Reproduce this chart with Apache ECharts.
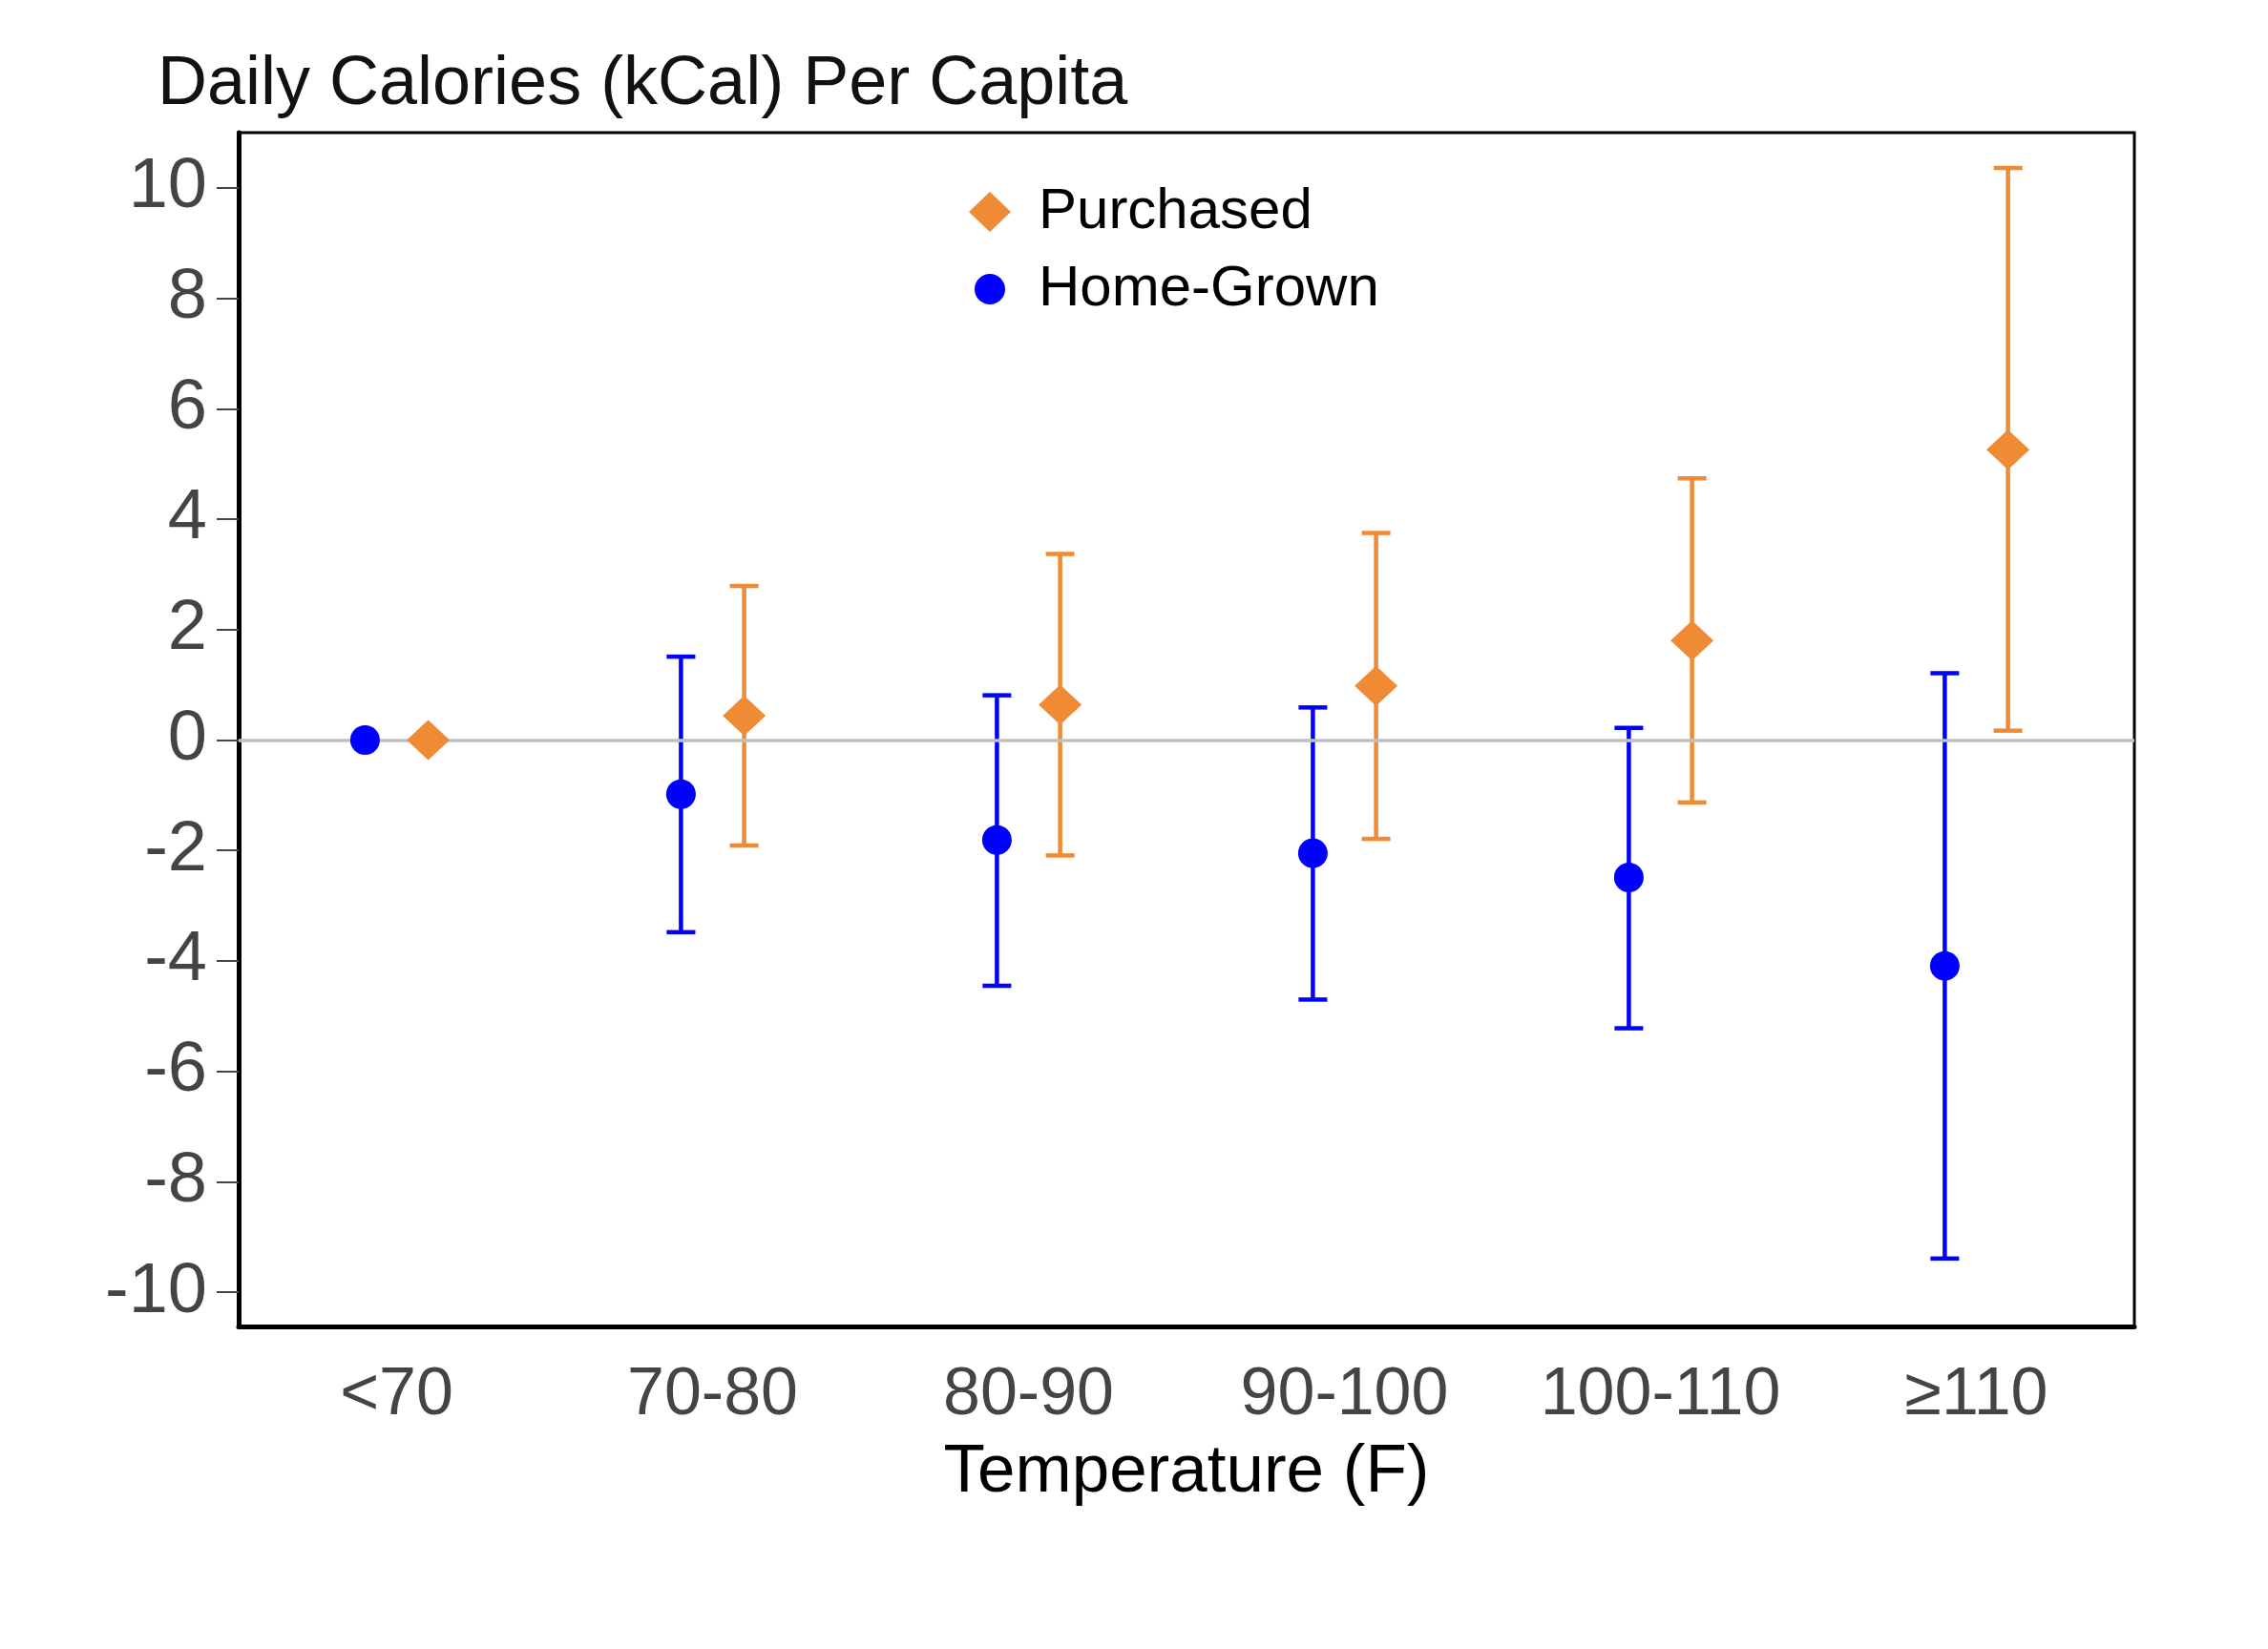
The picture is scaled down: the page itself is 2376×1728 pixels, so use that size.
<!DOCTYPE html>
<html>
<head>
<meta charset="utf-8">
<script src="https://cdn.jsdelivr.net/npm/echarts@6/dist/echarts.min.js"></script>
<style>html,body{margin:0;padding:0;background:#fff;}#c{width:2376px;height:1728px;}</style>
</head>
<body>
<div id="c"></div>
<script>
// ---- data ----
const categories = ['<70', '70-80', '80-90', '90-100', '100-110', '≥110'];
const yTicks = [-10, -8, -6, -4, -2, 0, 2, 4, 6, 8, 10];

const purchasedEst = [0, 0.44, 0.64, 0.98, 1.80, 5.26];
const purchasedLow = [null, -1.91, -2.09, -1.79, -1.13, 0.17];
const purchasedHigh = [null, 2.79, 3.37, 3.75, 4.74, 10.36];

const homeEst = [0, -0.98, -1.81, -2.05, -2.49, -4.09];
const homeLow = [null, -3.48, -4.45, -4.70, -5.22, -9.39];
const homeHigh = [null, 1.51, 0.81, 0.59, 0.22, 1.21];

const ORANGE = '#EF8A35';
const BLUE = '#0000FF';
const FONT = 'Liberation Sans';
const OFFSET = 0.1;

const points = (est, shift) => est.map((v, i) => [i + shift, v]);
const bars = (lo, hi, shift) => lo.map((l, i) => l == null ? null : [i + shift, l, hi[i]]).filter(d => d);

function errorBar(color) {
  return function (params, api) {
    const x = api.value(0);
    const p1 = api.coord([x, api.value(1)]);
    const p2 = api.coord([x, api.value(2)]);
    const w = 15;
    const st = { stroke: color, lineWidth: 4.5 };
    return {
      type: 'group',
      children: [
        { type: 'line', shape: { x1: p1[0], y1: p1[1], x2: p2[0], y2: p2[1] }, style: st },
        { type: 'line', shape: { x1: p1[0] - w, y1: p1[1], x2: p1[0] + w, y2: p1[1] }, style: st },
        { type: 'line', shape: { x1: p2[0] - w, y1: p2[1], x2: p2[0] + w, y2: p2[1] }, style: st }
      ]
    };
  };
}

const legendText = { fontFamily: FONT, fontSize: 60, color: '#000', padding: [0, 0, 0, 24] };

const chart = echarts.init(document.getElementById('c'), null, { renderer: 'canvas' });
chart.setOption({
  animation: false,
  backgroundColor: '#fff',
  textStyle: { fontFamily: FONT },
  title: {
    text: 'Daily Calories (kCal) Per Capita',
    left: 160, top: 48,
    textStyle: { fontFamily: FONT, fontSize: 72, fontWeight: 'normal', color: '#111' }
  },
  legend: [
    {
      left: 1010, top: 187,
      itemWidth: 44, itemHeight: 42,
      data: [{ name: 'Purchased', icon: 'diamond', itemStyle: { color: ORANGE, opacity: 1 } }],
      textStyle: legendText
    },
    {
      left: 1016, top: 268,
      itemWidth: 32, itemHeight: 32,
      data: [{ name: 'Home-Grown', icon: 'circle', itemStyle: { color: BLUE, opacity: 1 } }],
      textStyle: Object.assign({}, legendText, { padding: [0, 0, 0, 30] })
    }
  ],
  grid: {
    left: 250, right: 140, top: 139, bottom: 338,
    show: true, borderColor: '#000', borderWidth: 3, backgroundColor: 'transparent'
  },
  xAxis: [
    {
      type: 'category', data: categories, boundaryGap: true,
      axisLine: { onZero: false, lineStyle: { color: '#000', width: 5 } },
      axisTick: { alignWithLabel: true, length: 23, lineStyle: { color: '#444', width: 2 } },
      axisLabel: { fontFamily: FONT, fontSize: 70, color: '#444', margin: 38 },
      name: 'Temperature (F)', nameLocation: 'middle', nameGap: 118,
      nameTextStyle: { fontFamily: FONT, fontSize: 71, color: '#000' }
    },
    { type: 'value', min: -0.5, max: 5.5, show: false }
  ],
  yAxis: {
    type: 'value', min: -10.62, max: 11.0,
    axisLine: { show: true, onZero: false, lineStyle: { color: '#000', width: 5 } },
    axisTick: { show: true, length: 23, lineStyle: { color: '#444', width: 2 }, customValues: yTicks },
    axisLabel: { fontFamily: FONT, fontSize: 74, color: '#444', margin: 33, padding: [18, 0, 0, 0], customValues: yTicks },
    splitLine: { show: false }
  },
  series: [
    {
      type: 'custom', name: 'pbar', xAxisIndex: 1, z: 2,
      renderItem: errorBar(ORANGE), data: bars(purchasedLow, purchasedHigh, OFFSET),
      markLine: {
        silent: true, symbol: 'none', label: { show: false },
        lineStyle: { color: '#C0C0C0', width: 3.5, type: 'solid', opacity: 1 },
        data: [{ yAxis: 0 }]
      }
    },
    { type: 'custom', name: 'hbar', xAxisIndex: 1, z: 2, renderItem: errorBar(BLUE), data: bars(homeLow, homeHigh, -OFFSET) },
    {
      type: 'scatter', name: 'Purchased', xAxisIndex: 1, z: 5,
      symbol: 'diamond', symbolSize: [45, 42], itemStyle: { color: ORANGE, opacity: 1 },
      data: points(purchasedEst, OFFSET)
    },
    {
      type: 'scatter', name: 'Home-Grown', xAxisIndex: 1, z: 5,
      symbol: 'circle', symbolSize: 31, itemStyle: { color: BLUE, opacity: 1 },
      data: points(homeEst, -OFFSET)
    }
  ]
});
</script>
</body>
</html>
